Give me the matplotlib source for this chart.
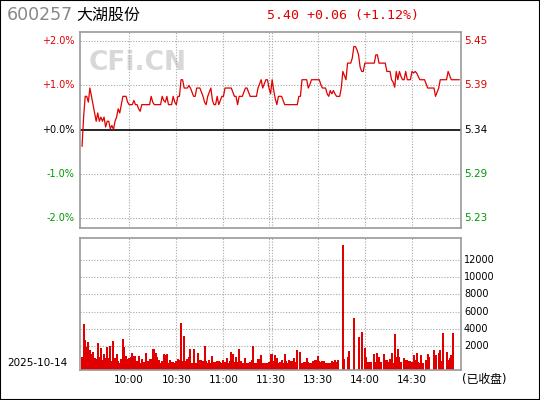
import numpy as np
import matplotlib
matplotlib.use("Agg")
import matplotlib.pyplot as plt
from matplotlib.patches import Rectangle

plt.rcParams['font.family'] = ['DejaVu Sans', 'Noto Sans CJK SC']

# stock info
code = "600257"
name = "大湖股份"
prev_close = 5.34
date_str = "2025-10-14"
status = "(已收盘)"

# minute prices 9:30-11:30, 13:00-15:00 (241 points)
price = [
    5.32, 5.355, 5.38, 5.38, 5.373, 5.39, 5.38, 5.37, 5.36, 5.35,
    5.36, 5.35, 5.355, 5.35, 5.355, 5.343, 5.35, 5.35, 5.341, 5.345,
    5.34, 5.35, 5.355, 5.365, 5.36, 5.37, 5.38, 5.38, 5.38, 5.373,
    5.37, 5.37, 5.37, 5.375, 5.37, 5.37, 5.365, 5.362, 5.37, 5.37,
    5.37, 5.37, 5.37, 5.37, 5.38, 5.373, 5.37, 5.37, 5.37, 5.37,
    5.37, 5.38, 5.375, 5.373, 5.38, 5.37, 5.37, 5.37, 5.38, 5.373,
    5.37, 5.38, 5.38, 5.40, 5.40, 5.39, 5.39, 5.39, 5.393, 5.39,
    5.385, 5.38, 5.38, 5.39, 5.39, 5.39, 5.385, 5.38, 5.373, 5.37,
    5.38, 5.385, 5.39, 5.375, 5.37, 5.37, 5.38, 5.37, 5.375, 5.38,
    5.38, 5.39, 5.39, 5.39, 5.39, 5.39, 5.385, 5.38, 5.38, 5.37,
    5.38, 5.38, 5.38, 5.385, 5.39, 5.39, 5.385, 5.38, 5.38, 5.38,
    5.38, 5.38, 5.39, 5.395, 5.40, 5.39, 5.395, 5.40, 5.40, 5.39,
    5.383, 5.40, 5.387, 5.377, 5.37, 5.38, 5.38, 5.38, 5.375, 5.37,
    5.37, 5.37, 5.37, 5.37, 5.37, 5.37, 5.37, 5.37, 5.38, 5.38,
    5.40, 5.40, 5.40, 5.40, 5.39, 5.394, 5.40, 5.40, 5.40, 5.40,
    5.40, 5.40, 5.394, 5.39, 5.39, 5.39, 5.383, 5.38, 5.387, 5.383,
    5.387, 5.383, 5.38, 5.38, 5.38, 5.39, 5.41, 5.405, 5.40, 5.42,
    5.42, 5.42, 5.426, 5.44, 5.44, 5.436, 5.43, 5.415, 5.41, 5.41,
    5.42, 5.42, 5.42, 5.42, 5.42, 5.42, 5.42, 5.43, 5.43, 5.42,
    5.42, 5.42, 5.42, 5.42, 5.41, 5.41, 5.41, 5.40, 5.397, 5.391,
    5.41, 5.40, 5.41, 5.404, 5.40, 5.40, 5.41, 5.40, 5.40, 5.40,
    5.41, 5.408, 5.41, 5.408, 5.404, 5.40, 5.40, 5.40, 5.40, 5.395,
    5.39, 5.39, 5.39, 5.39, 5.39, 5.38, 5.385, 5.39, 5.40, 5.40,
    5.40, 5.40, 5.40, 5.41, 5.405, 5.40, 5.40, 5.40, 5.40, 5.40,
    5.40,
]

# minute volume (lots)
volume = [
    810, 4580, 2730, 1960, 2540, 1580, 1120, 1390, 620, 500,
    2420, 810, 1850, 420, 1120, 650, 1960, 650, 2040, 350,
    2620, 650, 1120, 350, 120, 540, 2850, 1960, 890, 500,
    620, 810, 1270, 890, 890, 350, 890, 120, 540, 230,
    230, 1270, 350, 540, 540, 1690, 1690, 1270, 810, 420,
    120, 350, 1120, 1000, 1120, 120, 420, 230, 230, 120,
    350,
    540, 420, 4730, 310, 3190, 310, 540, 810, 1690, 120,
    1690, 120, 120, 1230, 420, 420, 310, 2040, 310, 120,
    420, 120, 890, 230, 230, 310, 310, 230, 120, 420,
    230, 650, 120, 310, 1350, 1120, 230, 770, 190, 1690,
    310, 120, 120, 650, 120, 120, 230, 420, 2040, 120,
    120, 540, 540, 1000, 120, 120, 120, 120, 230, 1120,
    1120, 310, 1000, 650, 120, 190, 420, 120, 1120, 310,
    120, 420, 310, 310, 650, 190, 1580, 0, 1350, 120,
    190, 190, 650, 190, 120, 120, 310, 420, 420, 890,
    310, 190, 310, 310, 120, 120, 120, 120, 310, 190,
    420, 230, 420,
    0, 0, 13650, 500, 0, 770, 1460, 0, 0, 5270,
    0, 0, 3120, 0, 3650, 0, 1810,
    770, 190, 190, 190, 0, 1120, 190, 1230, 770, 190,
    0, 1120, 420, 420, 190, 540, 1230, 80, 3420, 770,
    1690, 770, 190, 0, 650, 420, 420, 310, 310, 190,
    1000, 420, 1230, 190, 80, 1000, 80, 0, 420, 1120,
    770, 0, 0, 1580, 1000, 0, 1230, 1580, 310, 3540,
    0, 1350, 420, 650, 1000, 3540, 0, 0, 0, 0,
]

time_labels = ["10:00", "10:30", "11:00", "11:30", "13:30", "14:00", "14:30"]
time_pos = [30, 60, 90, 120, 150, 180, 210]
pct_ticks = [2.0, 1.0, 0.0, -1.0, -2.0]
vol_ticks = [2000, 4000, 6000, 8000, 10000, 12000]

red = '#e00000'
green = '#009900'
grid_kw = dict(color='#a8a8a8', lw=0.8, ls=(0, (1, 1.5)))

price = np.array(price)
pct = (price / prev_close - 1) * 100
minutes = np.arange(len(price))
volume = np.array(volume)

W, H = 540, 400
fig = plt.figure(figsize=(W / 100, H / 100), dpi=100)
fig.patch.set_facecolor('white')


def box(l, t, r, b):
    return [l / W, 1 - b / H, (r - l) / W, (b - t) / H]


ax = fig.add_axes(box(80, 32, 461, 228))
axv = fig.add_axes(box(80, 238, 461, 370))

xl = (-1.3, 241.2)
grid_x = [30, 60, 90, 119.2, 120.8, 150, 180, 210]

# price panel
ax.set_xlim(*xl)
ax.set_ylim(-2.22, 2.2)
for gx in grid_x:
    ax.axvline(gx, **grid_kw)
for gy in [2, 1, -1, -2]:
    ax.axhline(gy, **grid_kw)
ax.axhline(0, color='black', lw=1.2)
ax.plot(minutes, pct, color=red, lw=0.9)
ax.set_xticks([])
ax.set_yticks([])

ax.text(0.152, 0.84, "CFi.CN", transform=ax.transAxes, fontsize=19,
        fontweight='bold', color='#d8d8d8', ha='center', va='center', zorder=0)

for t in pct_ticks:
    c = red if t > 0 else (green if t < 0 else 'black')
    sign = '+' if t >= 0 else ''
    ax.text(-0.015, t, f"{sign}{t:.1f}%", transform=ax.get_yaxis_transform(),
            ha='right', va='center', fontsize=7, color=c)
    ax.text(1.008, t, f"{prev_close * (1 + t / 100):.2f}",
            transform=ax.get_yaxis_transform(),
            ha='left', va='center', fontsize=7.5, color=c)

# volume panel
axv.set_xlim(*xl)
axv.set_ylim(-730, 14500)
for gx in grid_x:
    axv.axvline(gx, **grid_kw)
for gy in vol_ticks:
    axv.axhline(gy, **grid_kw)
mask = volume > 0
axv.vlines(minutes[mask], -730, volume[mask], color=red, lw=1.1,
           antialiased=False)
axv.set_xticks([])
axv.set_yticks([])
for v in vol_ticks:
    axv.text(1.008, v, str(v), transform=axv.get_yaxis_transform(),
             ha='left', va='center', fontsize=7)
for p, lab in zip(time_pos, time_labels):
    axv.text(p, -0.035, lab, transform=axv.get_xaxis_transform(),
             ha='center', va='top', fontsize=7.5)

for a in (ax, axv):
    for s in a.spines.values():
        s.set_color('#999999')
        s.set_linewidth(1.2)

# header / footer texts
fig.text(7 / W, 1 - 15 / H, code, fontsize=12.5, color='#888888', va='center')
fig.text(76 / W, 1 - 15 / H, name, fontsize=11.5, color='black', va='center')
fig.text(267 / W, 1 - 15 / H, "5.40 +0.06 (+1.12%)", fontsize=9.5,
         color=red, va='center', family='DejaVu Sans Mono')
fig.text(7 / W, 1 - 363 / H, date_str, fontsize=7.5, va='center')
fig.text(462 / W, 1 - 380 / H, status, fontsize=8.5, va='center')

fig.add_artist(Rectangle((0, 0), 1, 1, transform=fig.transFigure,
                         fill=False, edgecolor='black', lw=1.5))

fig.savefig("out.png", dpi=100)
